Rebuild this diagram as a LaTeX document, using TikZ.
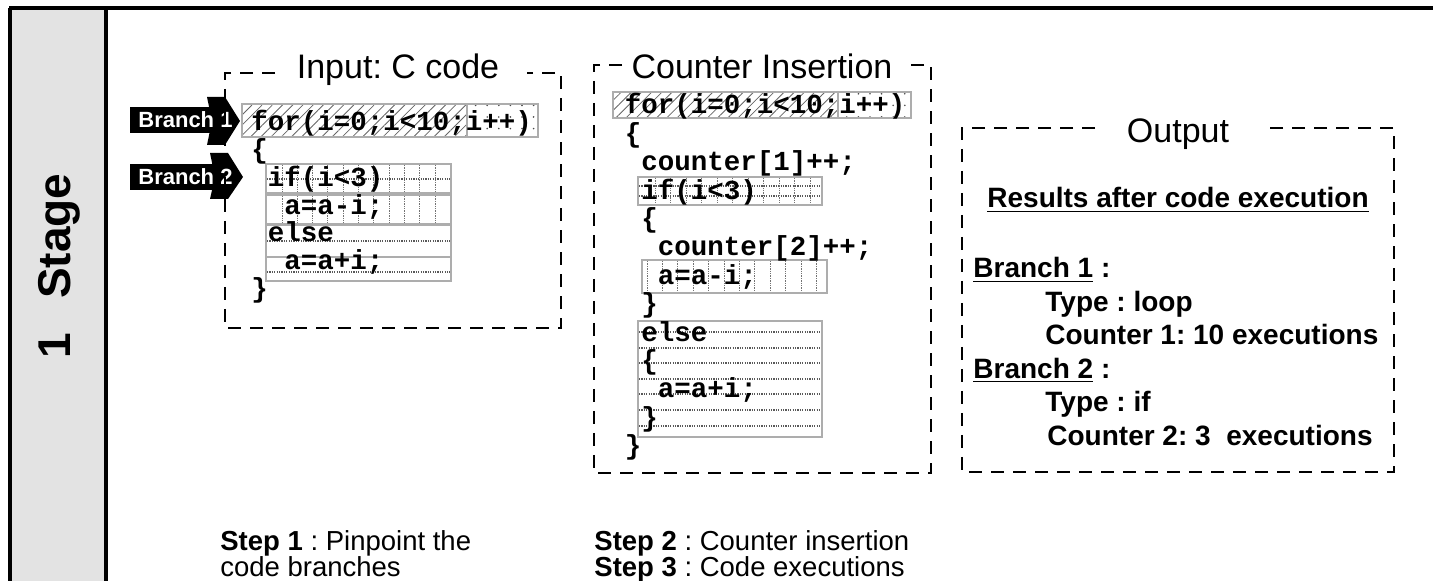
\documentclass[tikz,border=0pt]{standalone}
\usepackage{fontspec}
\setmainfont{Liberation Sans}
\setmonofont{Liberation Mono}
\usetikzlibrary{patterns.meta}
\frenchspacing
\begin{document}
\begin{tikzpicture}[x=0.5pt,y=-0.5pt,
  code/.style={font=\fontsize{13.75}{14}\selectfont\ttfamily\bfseries, anchor=base west, inner sep=0},
  boxtitle/.style={font=\fontsize{17}{18}\selectfont, anchor=base, inner sep=0},
  outtext/.style={font=\fontsize{14}{15}\selectfont\bfseries, anchor=base west, inner sep=0},
  steptext/.style={font=\fontsize{13.75}{14}\selectfont, anchor=base west, inner sep=0},
  branchlbl/.style={font=\fontsize{11}{12}\selectfont\bfseries, text=white, anchor=base west, inner sep=0},
  dashbox/.style={draw=black, line width=1.2pt, dash pattern=on 6.5pt off 4.5pt},
  codebox/.style={draw=black!32, line width=1pt},
  hatch/.style={pattern={Lines[angle=45,distance=3.6pt,line width=0.4pt]}, pattern color=black!60},
  dotfill/.style={pattern={Dots[distance=5.8pt,radius=0.45pt]}, pattern color=black!70},
  gridv/.style={draw=black!55, line width=0.5pt, dash pattern=on 0.7pt off 0.5pt},
  gridh/.style={draw=black!65, line width=0.6pt, dash pattern=on 0.6pt off 0.6pt},
  frameline/.style={draw=black, line width=2pt}
]
\useasboundingbox (0,0) rectangle (1433,581);

% ---- stage frame ----
\fill[black!11] (10,8) rectangle (106,581);
\draw[frameline] (9,8) -- (1433,8);
\draw[frameline] (10,8) -- (10,581);
\draw[draw=black, line width=1.6pt] (106,8) -- (106,581);
\node[rotate=90, font=\fontsize{23}{24}\selectfont\bfseries, anchor=base, inner sep=0] (stage) at (70,266) {1\hspace{17pt}Stage};

% ---- branch markers ----
\fill (130,107) rectangle (213,133);
\fill (207,97) -- (225,97) -- (240,121) -- (225,145) -- (207,145) -- (212,121) -- cycle;
\node[branchlbl] (br1) at (138,128) {Branch 1};
\fill (130,164) rectangle (216,190);
\fill (210,153) -- (228,153) -- (243,177) -- (228,199) -- (210,199) -- (215,177) -- cycle;
\node[branchlbl] (br2) at (138,185) {Branch 2};

% ---- input box ----
\node[boxtitle] (intitle) at (398,79) {Input: C code};
\draw[dashbox] (275,73) -- (225,73) -- (225,328) -- (561,328) -- (561,73) -- (527,73);

\filldraw[codebox, hatch] (242,104) rectangle (467,137);
\filldraw[codebox, dotfill] (467,104) rectangle (538,137);
\draw[codebox] (266,164) rectangle (451,193);
\draw[codebox] (266,195) rectangle (451,224);
\draw[codebox] (266,225) rectangle (451,281);
\foreach \gx in {282,297.3,...,440} {
  \draw[gridv] (\gx,165) -- (\gx,192);
  \draw[gridv] (\gx,196) -- (\gx,223);
}
\draw[gridh] (267,179) -- (450,179);
\draw[gridh] (267,241) -- (450,241);
\draw[codebox, line width=0.6pt] (267,257) -- (450,257);
\draw[gridh] (267,272) -- (450,272);

\node[code] (in1) at (251,131) {for(i=0;i<10;i++)};
\node[code] (in2) at (251,158.7) {\{};
\node[code] (in3) at (267.5,186.4) {if(i<3)};
\node[code] (in4) at (284,214.1) {a=a-i;};
\node[code] (in5) at (267.5,241.8) {else};
\node[code] (in6) at (284,269.5) {a=a+i;};
\node[code] (in7) at (251,297.2) {\}};

% ---- counter insertion box ----
\node[boxtitle] (cttitle) at (762,79) {Counter Insertion};
\draw[dashbox] (622,65) -- (594,65) -- (594,473) -- (931,473) -- (931,65) -- (905,65);

\filldraw[codebox, hatch] (613,92) rectangle (838,118);
\filldraw[codebox, dotfill] (838,92) rectangle (911,118);
\draw[codebox] (638,177) rectangle (822,205);
\foreach \gx in {655,670.5,...,815} {
  \draw[gridv] (\gx,178) -- (\gx,204);
}
\draw[gridh] (639,186) -- (821,186);
\draw[gridh] (639,196) -- (821,196);
\draw[codebox] (642,260) rectangle (827,293);
\foreach \gx in {647,662.4,...,823} {
  \draw[gridv] (\gx,261) -- (\gx,292);
}
\draw[codebox] (638,321) rectangle (822,437);
\foreach \gy in {332,348,363,379,394,410,426} {
  \draw[gridh] (639,\gy) -- (821,\gy);
}

\node[code] (ct1) at (624.5,114) {for(i=0;i<10;i++)};
\node[code] (ct2) at (624.5,142.4) {\{};
\node[code] (ct3) at (641,170.8) {counter[1]++;};
\node[code] (ct4) at (641,199.2) {if(i<3)};
\node[code] (ct5) at (641,227.6) {\{};
\node[code] (ct6) at (657.5,256) {counter[2]++;};
\node[code] (ct7) at (657.5,284.4) {a=a-i;};
\node[code] (ct8) at (641,312.8) {\}};
\node[code] (ct9) at (641,341.2) {else};
\node[code] (ct10) at (641,369.6) {\{};
\node[code] (ct11) at (657.5,398) {a=a+i;};
\node[code] (ct12) at (641,426.4) {\}};
\node[code] (ct13) at (624.5,454.8) {\}};

% ---- output box ----
\node[boxtitle] (outtitle) at (1178,143) {Output};
\draw[dashbox] (1095,128) -- (962,128) -- (962,472) -- (1394,472) -- (1394,128) -- (1262,128);

\node[outtext] (res) at (987,208) {\underline{Results after code execution}};
\node[outtext] (ob1) at (973,278) {\underline{Branch 1} :};
\node[outtext] (ot1) at (1045,311.5) {Type : loop};
\node[outtext] (oc1) at (1045,345) {Counter 1: 10 executions};
\node[outtext] (ob2) at (973,378.5) {\underline{Branch 2} :};
\node[outtext] (ot2) at (1045,412) {Type : if};
\node[outtext] (oc2) at (1047,445.5) {Counter 2: 3\ \ executions};

% ---- step captions ----
\node[steptext] (s1a) at (220,551) {\textbf{Step 1} : Pinpoint the};
\node[steptext] (s1b) at (220,576) {code branches};
\node[steptext] (s2) at (594,551) {\textbf{Step 2} : Counter insertion};
\node[steptext] (s3) at (594,576) {\textbf{Step 3} : Code executions};
\end{tikzpicture}
\end{document}
